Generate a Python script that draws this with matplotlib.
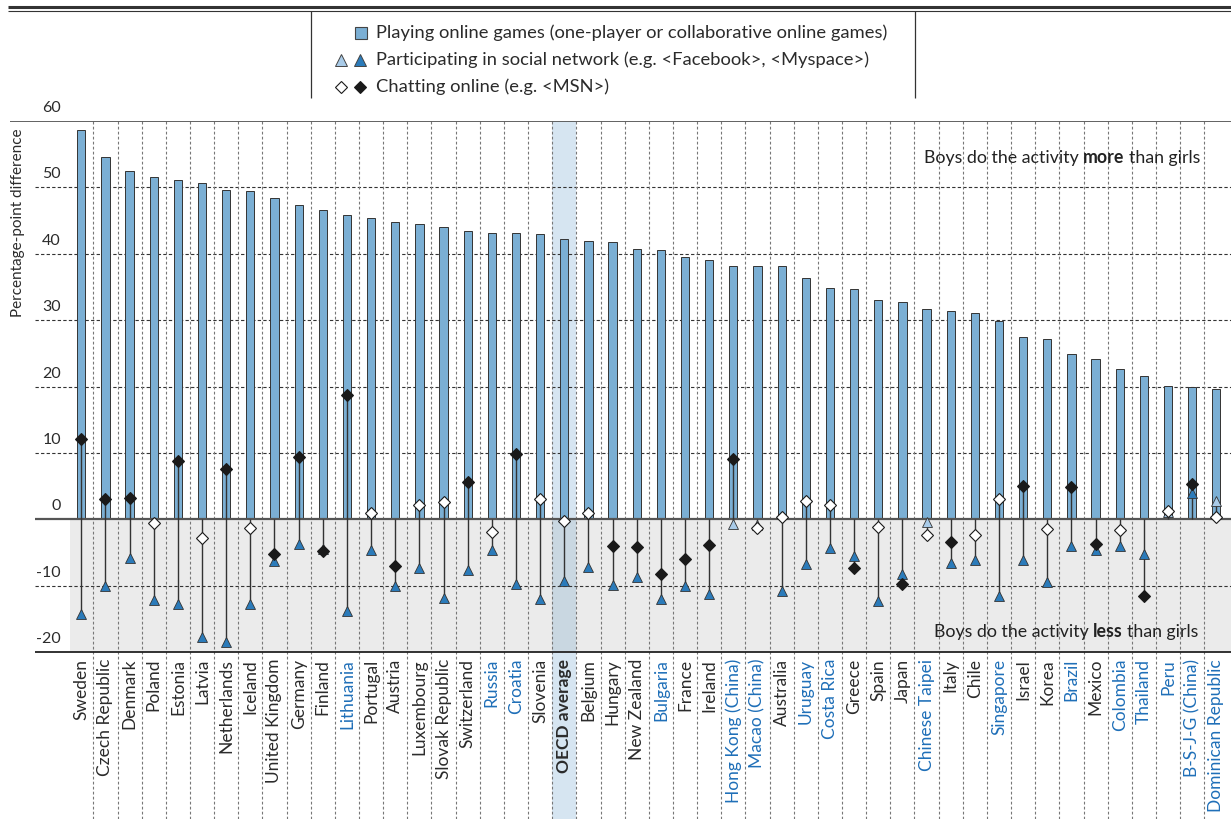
import matplotlib
matplotlib.use("Agg")
import matplotlib.pyplot as plt
from matplotlib.patches import Rectangle

plt.rcParams["font.family"] = ["Lato", "DejaVu Sans"]

countries = ["Sweden", "Czech Republic", "Denmark", "Poland", "Estonia", "Latvia",
             "Netherlands", "Iceland", "United Kingdom", "Germany", "Finland",
             "Lithuania", "Portugal", "Austria", "Luxembourg", "Slovak Republic",
             "Switzerland", "Russia", "Croatia", "Slovenia", "OECD average",
             "Belgium", "Hungary", "New Zealand", "Bulgaria", "France", "Ireland",
             "Hong Kong (China)", "Macao (China)", "Australia", "Uruguay",
             "Costa Rica", "Greece", "Spain", "Japan", "Chinese Taipei", "Italy",
             "Chile", "Singapore", "Israel", "Korea", "Brazil", "Mexico",
             "Colombia", "Thailand", "Peru", "B-S-J-G (China)", "Dominican Republic"]

partners = {"Lithuania", "Russia", "Croatia", "Bulgaria", "Hong Kong (China)",
            "Macao (China)", "Uruguay", "Costa Rica", "Chinese Taipei", "Singapore",
            "Brazil", "Colombia", "Thailand", "Peru", "B-S-J-G (China)",
            "Dominican Republic"}

# playing online games (bars)
games = [58.6, 54.6, 52.5, 51.6, 51.1, 50.6, 49.6, 49.5, 48.4, 47.4, 46.6,
         45.8, 45.4, 44.8, 44.5, 44.1, 43.5, 43.1, 43.1, 43.0, 42.2,
         41.9, 41.7, 40.7, 40.5, 39.5, 39.1, 38.2, 38.1, 38.1, 36.3,
         34.9, 34.7, 33.1, 32.8, 31.7, 31.3, 31.0, 29.9, 27.5, 27.2,
         24.9, 24.1, 22.6, 21.6, 20.1, 19.9, 19.6]

# participating in social network (triangles)
social = [-14.3, -10.0, -5.8, -12.1, -12.7, -17.8, -18.5, -12.8, -6.3, -3.8, -4.5,
          -13.8, -4.6, -10.0, -7.4, -11.8, -7.7, -4.7, -9.7, -12.0, -9.3,
          -7.2, -9.9, -8.7, -12.0, -10.0, -11.2, -0.75, -0.9, -10.8, -6.7,
          -4.3, -5.6, -12.3, -8.2, -0.45, -6.6, -6.1, -11.6, -6.2, -9.5,
          -4.0, -4.7, -4.1, -5.3, 1.05, 4.0, 2.7]
social_not_sig = ["Hong Kong (China)", "Macao (China)", "Chinese Taipei", "Peru",
                  "Dominican Republic"]
social_sig = [c not in social_not_sig for c in countries]

# chatting online (diamonds)
chat = [12.1, 3.1, 3.2, -0.55, 8.8, -2.9, 7.6, -1.3, -5.2, 9.4, -4.8,
        18.7, 0.9, -7.0, 2.1, 2.6, 5.6, -1.9, 9.9, 3.1, -0.2,
        1.0, -4.1, -4.2, -8.3, -6.0, -3.9, 9.1, -1.3, 0.4, 2.8,
        2.1, -7.3, -1.2, -9.8, -2.4, -3.5, -2.3, 3.0, 5.0, -1.5,
        4.9, -3.7, -1.65, -11.5, 1.2, 5.3, 0.35]
chat_not_sig = ["Poland", "Latvia", "Iceland", "Portugal", "Luxembourg",
                "Slovak Republic", "Russia", "Slovenia", "OECD average", "Belgium",
                "Macao (China)", "Australia", "Uruguay", "Costa Rica", "Spain",
                "Chinese Taipei", "Chile", "Singapore", "Korea", "Colombia", "Peru",
                "Dominican Republic"]
chat_sig = [c not in chat_not_sig for c in countries]

W, H = 1231, 819
BAR = "#7BAFD4"
TRI_DARK = "#2B7BBA"
TRI_LIGHT = "#A9CBE8"
BLUE_TXT = "#1F6FB8"
TXT = "#2b2b2b"

fig = plt.figure(figsize=(W / 100, H / 100), dpi=100)
ax = fig.add_axes([10 / W, 1 - 652 / H, 1 - 10 / W, (652 - 121) / H])
step = 24.15
x0_px = 81.3
xl = -(x0_px - 10) / step
xr = (W - x0_px) / step
ax.set_xlim(xl, xr)
ax.set_ylim(-20, 60)
for s in ax.spines.values():
    s.set_visible(False)
ax.set_yticks([])
x = list(range(len(countries)))
y_bottom_fig = -20 - (H - 652) / ((652 - 121) / 80)

# background: shaded negative area and OECD band
ax.add_patch(Rectangle((-0.47, -20), xr + 0.47, 20, color="#EBEBEB", lw=0, zorder=0))
oi = countries.index("OECD average")
ax.add_patch(Rectangle((oi - 0.5, 0), 1, 60, color="#D6E5F1", lw=0, zorder=0.5))
ax.add_patch(Rectangle((oi - 0.5, -20), 1, 20, color="#C9D7E1", lw=0, zorder=0.5))
ax.add_patch(Rectangle((oi - 0.5, y_bottom_fig), 1, -20 - y_bottom_fig,
                       color="#D6E5F1", lw=0, zorder=0.5, clip_on=False))

# grid
gx0 = (35 - x0_px) / step
for yv in [10, 20, 30, 40, 50, -10]:
    ax.hlines(yv, gx0, xr, colors="#333333", lw=0.8, linestyles=(0, (3, 2)), zorder=1)
ax.vlines([i + 0.5 for i in x[:-1]], y_bottom_fig, 60, colors="#777777", lw=0.8,
          linestyles=(0, (2.5, 2)), zorder=1, clip_on=False)
ax.hlines(60, xl, xr, colors="#555555", lw=1.3, zorder=3)
ax.hlines(0, gx0, xr, colors="#555555", lw=1.6, zorder=3)
ax.hlines(-20, gx0, xr, colors="#222222", lw=1.3, zorder=3, clip_on=False)

for yv in range(-20, 61, 10):
    ax.text((61 - x0_px) / step, yv + 0.9, str(yv), ha="right", va="bottom",
            fontsize=11.5, color=TXT)

# bars
ax.bar(x, games, width=0.34, color=BAR, edgecolor="#333333", lw=0.7, zorder=2)

# range lines
lo = [min(0, a, b) for a, b in zip(social, chat)]
hi = [max(0, a, b) for a, b in zip(social, chat)]
ax.vlines(x, lo, hi, colors="#333333", lw=1.0, zorder=4)

# markers
for i in x:
    ax.plot(i, social[i], marker="^", ms=7.5, ls="none",
            mfc=TRI_DARK if social_sig[i] else TRI_LIGHT, mec="#333333", mew=0.6,
            zorder=5)
    ax.plot(i, chat[i], marker="D", ms=6.4, ls="none",
            mfc="#1a1a1a" if chat_sig[i] else "white", mec="#1a1a1a", mew=0.8,
            zorder=6)

ax.set_xticks(x)
ax.set_xticklabels(countries, rotation=90, fontsize=12.5)
ax.tick_params(axis="x", length=0, pad=5)
for lab in ax.get_xticklabels():
    t = lab.get_text()
    lab.set_color(BLUE_TXT if t in partners else TXT)
    if t == "OECD average":
        lab.set_fontweight("bold")

# overlay in pixel coordinates for legend and notes
ov = fig.add_axes([0, 0, 1, 1])
ov.set_xlim(0, W)
ov.set_ylim(H, 0)
ov.axis("off")
ov.patch.set_alpha(0)

ov.hlines(7, 8, W, colors="#333333", lw=2.2)
ov.hlines(10.5, 8, W, colors="#333333", lw=0.8)
ov.vlines([311, 915], 11, 98, colors="#333333", lw=0.9)

ov.plot(361, 33, marker="s", ms=8, mfc=BAR, mec="#444444", mew=0.8)
ov.plot(341, 60, marker="^", ms=8, mfc=TRI_LIGHT, mec="#444444", mew=0.7)
ov.plot(360, 60, marker="^", ms=8, mfc=TRI_DARK, mec="#444444", mew=0.7)
ov.plot(341, 87, marker="D", ms=6.5, mfc="white", mec="#1a1a1a", mew=0.8)
ov.plot(360, 87, marker="D", ms=6.5, mfc="#1a1a1a", mec="#1a1a1a", mew=0.8)
leg_txt = ["Playing online games (one-player or collaborative online games)",
           "Participating in social network (e.g. <Facebook>, <Myspace>)",
           "Chatting online (e.g. <MSN>)"]
for yy, t in zip([33, 60, 87], leg_txt):
    ov.text(376, yy, t, va="center", ha="left", fontsize=13.2, color=TXT)

ov.text(18, 223, "Percentage-point difference", rotation=90, ha="center",
        va="center", fontsize=11, color=TXT)


def mixed(xp, yp, parts):
    # pieces of one line, each placed right after the previous one
    prev = None
    for txt, wt in parts:
        if prev is None:
            prev = ov.text(xp, yp, txt, fontsize=12.8, fontweight=wt, color="#222222",
                           ha="left", va="bottom")
        else:
            prev = ov.annotate(txt, xy=(1, 0), xycoords=prev, xytext=(3.2, 0),
                               textcoords="offset points", fontsize=12.8,
                               fontweight=wt, color="#222222", ha="left", va="bottom")


mixed(924, 166, [("Boys do the activity", "normal"), ("more", "bold"),
                 ("than girls", "normal")])
mixed(934, 640, [("Boys do the activity", "normal"), ("less", "bold"),
                 ("than girls", "normal")])

fig.savefig("out.png", dpi=100)
